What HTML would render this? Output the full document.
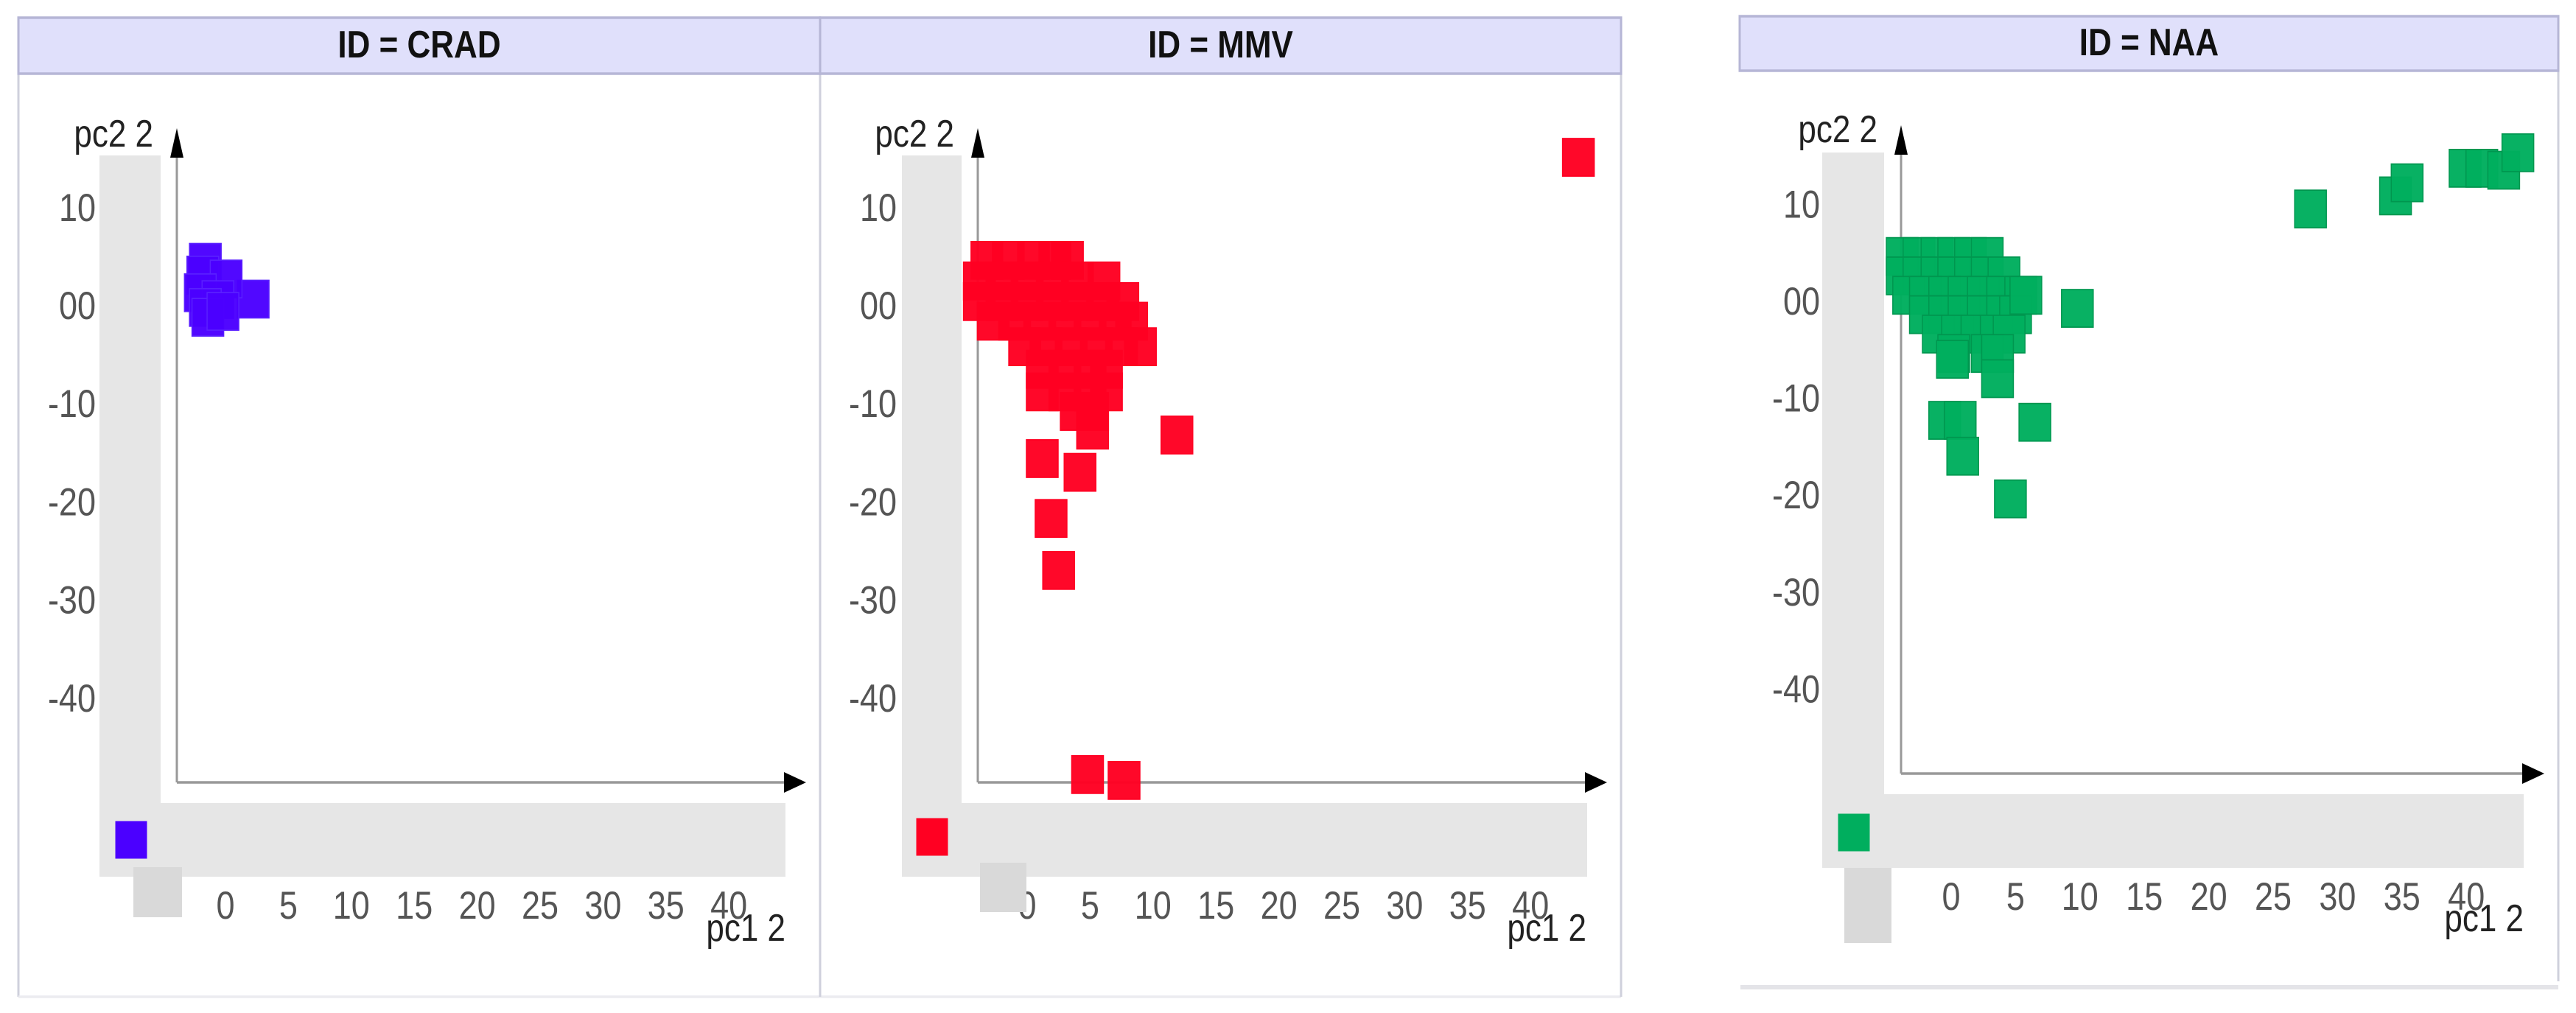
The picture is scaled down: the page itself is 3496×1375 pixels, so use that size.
<!DOCTYPE html>
<html><head><meta charset="utf-8"><style>
html,body{margin:0;padding:0;background:#fff;}
svg{display:block;}
text{font-family:"Liberation Sans",sans-serif;}
</style></head><body>
<svg id="chart" xmlns="http://www.w3.org/2000/svg" width="3496" height="1375" viewBox="0 0 3496 1175.2" preserveAspectRatio="none">
</svg>
<script>
// ---- data ----
const yTickValues = [10, 0, -10, -20, -30, -40];
const yTickLabels = ["10", "00", "-10", "-20", "-30", "-40"];
const xTickValues = [0, 5, 10, 15, 20, 25, 30, 35, 40];
const xTickLabels = ["0", "5", "10", "15", "20", "25", "30", "35", "40"];
const panelIds = ["CRAD", "MMV", "NAA"];
const cradX = [2.2, -1.6, -1.8, 0.05, -2.0, -0.6, -1.6, -1.4, -0.2];
const cradY = [0.75, 4.5, 3.2, 2.8, 1.4, 0.7, -0.1, -1.1, -0.5];
const mmvX = [-3.2,-1.5,0.5,2.2,3.2, -3.8,-2,0,2,4,6.1, -3.8,-2,0,2,4,6,7.6, -2.7,-1,1,3,5,7,8.3, -0.2,1.5,3.5,5.5,7.5,9, 1.2,3,5,6.3, 1.2,3,5,6.3, 3.9,5.2,
  43.8, 11.9, 1.2, 4.2, 1.9, 2.5, 4.8, 7.7, 5.2];
const mmvY = [4.7,4.7,4.7,4.7,4.7, 2.6,2.6,2.6,2.6,2.6,2.6, 0.5,0.5,0.5,0.5,0.5,0.5,0.5, -1.5,-1.5,-1.5,-1.5,-1.5,-1.5,-1.5, -4.1,-4.1,-4.1,-4.1,-4.1,-4.1, -6.4,-6.4,-6.4,-6.4, -8.7,-8.7,-8.7,-8.7, -10.7,-10.7,
  15.2, -13.1, -15.5, -16.9, -21.6, -26.9, -47.7, -48.3, -12.6];
const naaX = [-3.8,-2.5,-1.1,0.2,1.5,2.8, -3.8,-2.5,-1.1,0.2,1.5,2.8,4.1, -3.3,-2,-0.5,1,2.5,4,5.4, -2,-0.5,1,2.5,4,5, -1,0.5,2,3.5,4.5, 0.2,2.8,3.6,
  27.9, 34.5, 35.4, 39.9, 41.2, 42.9, 44.0, 9.8, 5.8, -0.5, 0.7, 0.9, 6.5, 4.6, 3.6, 0.1];
const naaY = [4.7,4.7,4.7,4.7,4.7,4.7, 2.7,2.7,2.7,2.7,2.7,2.7,2.7, 0.7,0.7,0.7,0.7,0.7,0.7,0.7, -1.3,-1.3,-1.3,-1.3,-1.3,-1.3, -3.3,-3.3,-3.3,-3.3,-3.3, -5.3,-5.3,-5.3,
  9.6, 10.95, 12.3, 13.8, 13.8, 13.6, 15.4, -0.65, 0.7, -12.2, -12.2, -15.9, -12.4, -20.3, -7.9, -5.9];

// ---- layout (real pixel coords; y converted by K) ----
const K = 1375 / 1175.2;
const NS = "http://www.w3.org/2000/svg";
const svg = document.getElementById("chart");
function Y(v){ return v / K; }
function mk(tag, attrs, parent){
  const e = document.createElementNS(NS, tag);
  for (const k in attrs) e.setAttribute(k, attrs[k]);
  (parent || svg).appendChild(e);
  return e;
}
const panels = [
  {ax:240, x0:306, sx:17.08, y0:416, sy:13.32, xAxisY:1062, arrowTop:174, arrowRight:1094, vbar:[135,218,211,1090], hbar:[135,1066,1090,1190], gsq:[181,247,1177,1245], mk:[178,1140], pc2:[208,199], pc1:[1066,1277], xl:1247, color:"#4b00ff", stroke:"#5a20ff", xs:cradX, ys:cradY},
  {ax:1327, x0:1394, sx:17.08, y0:416, sy:13.32, xAxisY:1062, arrowTop:174, arrowRight:2181, vbar:[1224,1305,211,1090], hbar:[1224,2154,1090,1190], gsq:[1330,1393,1171,1238], mk:[1265,1136], pc2:[1295,199], pc1:[2153,1277], xl:1247, color:"#ff0022", stroke:"#ff0022", xs:mmvX, ys:mmvY},
  {ax:2580, x0:2648, sx:17.48, y0:410, sy:13.16, xAxisY:1050, arrowTop:170, arrowRight:3453, vbar:[2473,2557,207,1078], hbar:[2473,3425,1078,1178], gsq:[2503,2567,1178,1280], mk:[2516,1130], pc2:[2548,193], pc1:[3425,1264], xl:1235, color:"#00ae5e", stroke:"#00964f", xs:naaX, ys:naaY}
];

// frames and headers
mk("line",{x1:25,y1:Y(100),x2:25,y2:Y(1353),stroke:"#cfd0dc","stroke-width":3,});
mk("line",{x1:25,y1:Y(1353),x2:2200,y2:Y(1353),stroke:"#ececf0","stroke-width":3,});
mk("line",{x1:1113,y1:Y(100),x2:1113,y2:Y(1353),stroke:"#cfd0dc","stroke-width":3,});
mk("line",{x1:2200,y1:Y(24),x2:2200,y2:Y(1353),stroke:"#cfd0dc","stroke-width":3,});
mk("line",{x1:3472,y1:Y(96),x2:3472,y2:Y(1332),stroke:"#cfd0dc","stroke-width":3,});
mk("rect",{x:2362,y:Y(1337),width:1110,height:Y(6),fill:"#e4e4e8",});
const headers = [[25,1113,24,100],[1113,2200,24,100],[2361,3472,22,96]];
headers.forEach((h,i)=>{
  const r = mk("rect",{x:h[0],y:Y(h[2]),width:h[1]-h[0],height:Y(h[3]-h[2]),fill:"#e0e0fb",stroke:"#b6b6d6","stroke-width":3});
  
  
  const t = mk("text",{x:(h[0]+h[1])/2,y:Y((h[2]+h[3])/2+16),"text-anchor":"middle","font-size":44,"font-weight":"bold",fill:"#111"});
  t.textContent = "ID = " + panelIds[i];
  
  
});

panels.forEach((p,pi)=>{
  const g = mk("g",{});
  
  
  const xS = v => p.x0 + v*p.sx;
  const yS = v => p.y0 - v*p.sy;
  // gray bars
  const vb = mk("rect",{x:p.vbar[0],y:Y(p.vbar[2]),width:p.vbar[1]-p.vbar[0],height:Y(p.vbar[3]-p.vbar[2]),fill:"#e6e6e6"},g);
  
  
  const hb = mk("rect",{x:p.hbar[0],y:Y(p.hbar[2]),width:p.hbar[1]-p.hbar[0],height:Y(p.hbar[3]-p.hbar[2]),fill:"#e6e6e6"},g);
  
  
  // axes
  const yl = mk("line",{x1:p.ax,y1:Y(p.xAxisY),x2:p.ax,y2:Y(p.arrowTop+20),stroke:"#999","stroke-width":3},g);
  
  
  const ya = mk("polygon",{points:`${p.ax-9},${Y(p.arrowTop+40)} ${p.ax+9},${Y(p.arrowTop+40)} ${p.ax},${Y(p.arrowTop)}`,fill:"#000"},g);
  
  
  const xl = mk("line",{x1:p.ax,y1:Y(p.xAxisY),x2:p.arrowRight-20,y2:Y(p.xAxisY),stroke:"#999","stroke-width":3},g);
  
  
  const xa = mk("polygon",{points:`${p.arrowRight-30},${Y(p.xAxisY-14)} ${p.arrowRight-30},${Y(p.xAxisY+14)} ${p.arrowRight},${Y(p.xAxisY)}`,fill:"#000"},g);
  
  
  // ticks
  yTickValues.forEach((v,i)=>{
    const t = mk("text",{x:p.ax-110,y:Y(yS(v)+17),"text-anchor":"end","font-size":45,fill:"#555"},g);
    t.textContent = yTickLabels[i];
    
    
  });
  xTickValues.forEach((v,i)=>{
    const t = mk("text",{x:xS(v),y:Y(p.xl),"text-anchor":"middle","font-size":45,fill:"#555"},g);
    t.textContent = xTickLabels[i];
    
    
  });
  // small gray square (drawn over tick label area)
  const gs = mk("rect",{x:p.gsq[0],y:Y(p.gsq[2]),width:p.gsq[1]-p.gsq[0],height:Y(p.gsq[3]-p.gsq[2]),fill:"#d9d9d9"},g);
  
  
  // axis titles
  const t2 = mk("text",{x:p.pc2[0],y:Y(p.pc2[1]),"text-anchor":"end","font-size":44,fill:"#222"},g);
  t2.textContent = "pc2 2";
  
  
  const t1 = mk("text",{x:p.pc1[0],y:Y(p.pc1[1]),"text-anchor":"end","font-size":44,fill:"#222"},g);
  t1.textContent = "pc1 2";
  
  
  // missing marker
  const mm = mk("rect",{x:p.mk[0]-21.5,y:Y(p.mk[1])-21.8,width:43,height:43.6,fill:p.color},g);
  
  
  // points
  p.xs.forEach((v,i)=>{
    const cx = xS(v), cy = Y(yS(p.ys[i]));
    const r = mk("rect",{x:cx-21.5,y:cy-21.8,width:43,height:43.6,fill:p.color,stroke:p.stroke,"stroke-width":1.5,"fill-opacity":0.97},g);
    
    
  });
});
</script>
</body></html>
